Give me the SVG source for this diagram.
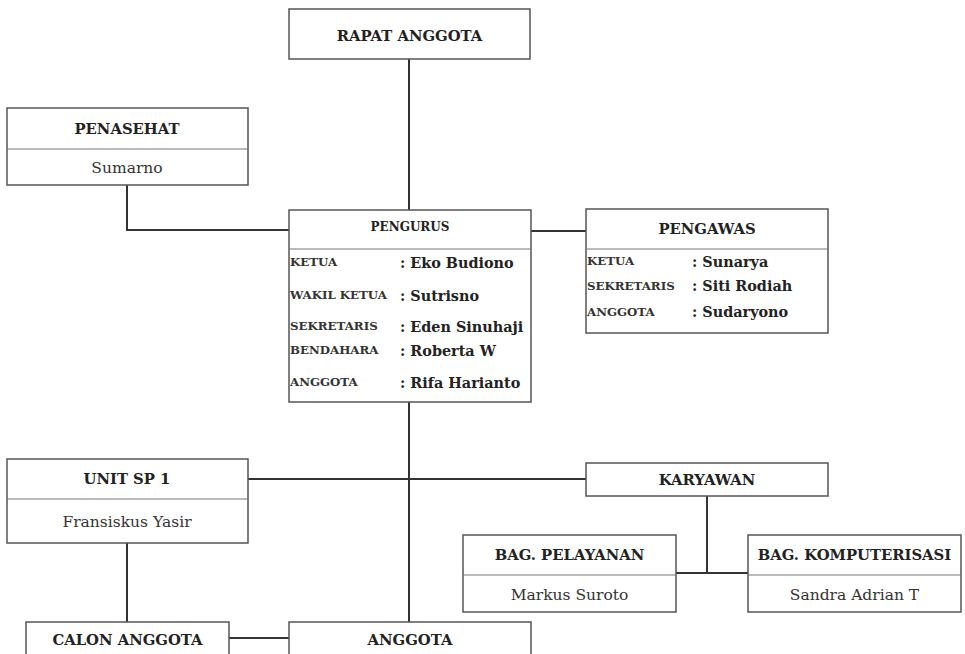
<svg xmlns="http://www.w3.org/2000/svg" width="965" height="654" viewBox="0 0 965 654">
<style>
.box{fill:#fff;stroke:#555;stroke-width:1.5}
.div{stroke:#777;stroke-width:1}
.con{fill:none;stroke:#333;stroke-width:2}
text{font-family:"DejaVu Serif","Liberation Serif",serif;fill:#222}
.t{font-size:14.8px;font-weight:bold;text-anchor:middle}
.n{font-size:15.5px;text-anchor:middle;fill:#333}
.l{font-size:11.8px;font-weight:bold;fill:#333}
.v{font-size:14.4px;font-weight:bold}
</style>
<rect width="965" height="654" fill="#fff"/>
<g id="connectors">
<path class="con" d="M409 59V210"/>
<path class="con" d="M127 185V230H289"/>
<path class="con" d="M531 231H587"/>
<path class="con" d="M409 402V622"/>
<path class="con" d="M248 479H587"/>
<path class="con" d="M707 496V573M676 573H748"/>
<path class="con" d="M127 543V622"/>
<path class="con" d="M229 638H289"/>
</g>
<g id="rapat-anggota">
<rect class="box" x="289" y="9" width="241" height="50"/>
<text class="t" x="409.5" y="41">RAPAT ANGGOTA</text>
</g>
<g id="penasehat">
<rect class="box" x="7" y="108" width="241" height="77"/>
<line class="div" x1="7" y1="149" x2="248" y2="149"/>
<text class="t" x="127" y="134">PENASEHAT</text>
<text class="n" x="127" y="173">Sumarno</text>
</g>
<g id="pengurus">
<rect class="box" x="289" y="210" width="242" height="192"/>
<line class="div" x1="289" y1="249" x2="531" y2="249"/>
<text class="t" x="410" y="231" style="font-size:12px">PENGURUS</text>
<text class="l" x="290" y="266">KETUA</text>
<text class="v" x="400" y="268">: Eko Budiono</text>
<text class="l" x="290" y="299">WAKIL KETUA</text>
<text class="v" x="400" y="301">: Sutrisno</text>
<text class="l" x="290" y="330">SEKRETARIS</text>
<text class="v" x="400" y="332">: Eden Sinuhaji</text>
<text class="l" x="290" y="354">BENDAHARA</text>
<text class="v" x="400" y="356">: Roberta W</text>
<text class="l" x="290" y="386">ANGGOTA</text>
<text class="v" x="400" y="388">: Rifa Harianto</text>
</g>
<g id="pengawas">
<rect class="box" x="586" y="209" width="242" height="124"/>
<line class="div" x1="586" y1="249" x2="828" y2="249"/>
<text class="t" x="707" y="234">PENGAWAS</text>
<text class="l" x="587" y="265">KETUA</text>
<text class="v" x="692" y="267">: Sunarya</text>
<text class="l" x="587" y="290">SEKRETARIS</text>
<text class="v" x="692" y="291">: Siti Rodiah</text>
<text class="l" x="587" y="316">ANGGOTA</text>
<text class="v" x="692" y="317">: Sudaryono</text>
</g>
<g id="unit-sp1">
<rect class="box" x="7" y="459" width="241" height="84"/>
<line class="div" x1="7" y1="499" x2="248" y2="499"/>
<text class="t" x="127" y="484">UNIT SP 1</text>
<text class="n" x="127" y="527">Fransiskus Yasir</text>
</g>
<g id="karyawan">
<rect class="box" x="586" y="463" width="242" height="33"/>
<text class="t" x="707" y="485">KARYAWAN</text>
</g>
<g id="bag-pelayanan">
<rect class="box" x="463" y="535" width="213" height="77"/>
<line class="div" x1="463" y1="575" x2="676" y2="575"/>
<text class="t" x="569.5" y="560">BAG. PELAYANAN</text>
<text class="n" x="569.5" y="600">Markus Suroto</text>
</g>
<g id="bag-komputerisasi">
<rect class="box" x="748" y="535" width="213" height="77"/>
<line class="div" x1="748" y1="575" x2="961" y2="575"/>
<text class="t" x="854.5" y="560">BAG. KOMPUTERISASI</text>
<text class="n" x="854.5" y="600">Sandra Adrian T</text>
</g>
<g id="calon-anggota">
<rect class="box" x="26" y="622" width="203" height="40"/>
<text class="t" x="127.5" y="645">CALON ANGGOTA</text>
</g>
<g id="anggota">
<rect class="box" x="289" y="622" width="242" height="40"/>
<text class="t" x="410" y="645">ANGGOTA</text>
</g>
</svg>
